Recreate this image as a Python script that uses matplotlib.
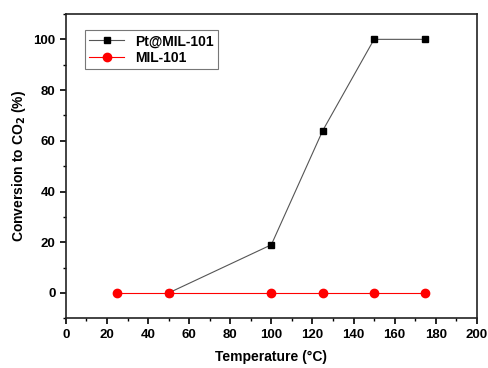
import matplotlib
matplotlib.use("Agg")
import matplotlib.pyplot as plt
from matplotlib.ticker import MultipleLocator

plt.rcParams['font.family'] = ['Liberation Sans', 'DejaVu Sans']
plt.rcParams['font.weight'] = 'bold'

pt_temp = [50, 100, 125, 150, 175]
pt_conv = [0, 19, 64, 100, 100]
mil_temp = [25, 50, 100, 125, 150, 175]
mil_conv = [0, 0, 0, 0, 0, 0]

fig = plt.figure(figsize=(4.88, 3.68), dpi=100)
ax = fig.add_axes([0.135, 0.135, 0.842, 0.827])

ax.plot(pt_temp, pt_conv, color='#555555', lw=0.8, marker='s', ms=5,
        mfc='black', mec='black', label='Pt@MIL-101', zorder=3)
ax.plot(mil_temp, mil_conv, color='red', lw=0.8, marker='o', ms=6,
        mfc='red', mec='red', label='MIL-101', zorder=4)

ax.set_xlim(0, 200)
ax.set_ylim(-10, 110)
ax.xaxis.set_major_locator(MultipleLocator(20))
ax.xaxis.set_minor_locator(MultipleLocator(10))
ax.yaxis.set_major_locator(MultipleLocator(20))
ax.yaxis.set_minor_locator(MultipleLocator(10))
ax.tick_params(which='major', direction='out', length=4, width=1.2, labelsize=9.5,
               top=False, right=False)
ax.tick_params(which='minor', direction='out', length=2.5, width=1.0,
               top=False, right=False)
for lab in ax.get_xticklabels() + ax.get_yticklabels():
    lab.set_fontweight('bold')
for s in ax.spines.values():
    s.set_linewidth(1.2)
    s.set_color('#222222')

ax.set_xlabel('Temperature (°C)', fontsize=10, fontweight='bold', labelpad=7)
ax.set_ylabel('Conversion to CO$_\\mathbf{2}$ (%)', fontsize=10, fontweight='bold')

leg = ax.legend(loc='upper left', bbox_to_anchor=(0.03, 0.97), fontsize=10,
                frameon=True, fancybox=False, edgecolor='#555555',
                handlelength=2.5, borderpad=0.3, labelspacing=0.2)
leg.get_frame().set_linewidth(0.8)
for t in leg.get_texts():
    t.set_fontweight('bold')

fig.savefig('out.png', dpi=100)
